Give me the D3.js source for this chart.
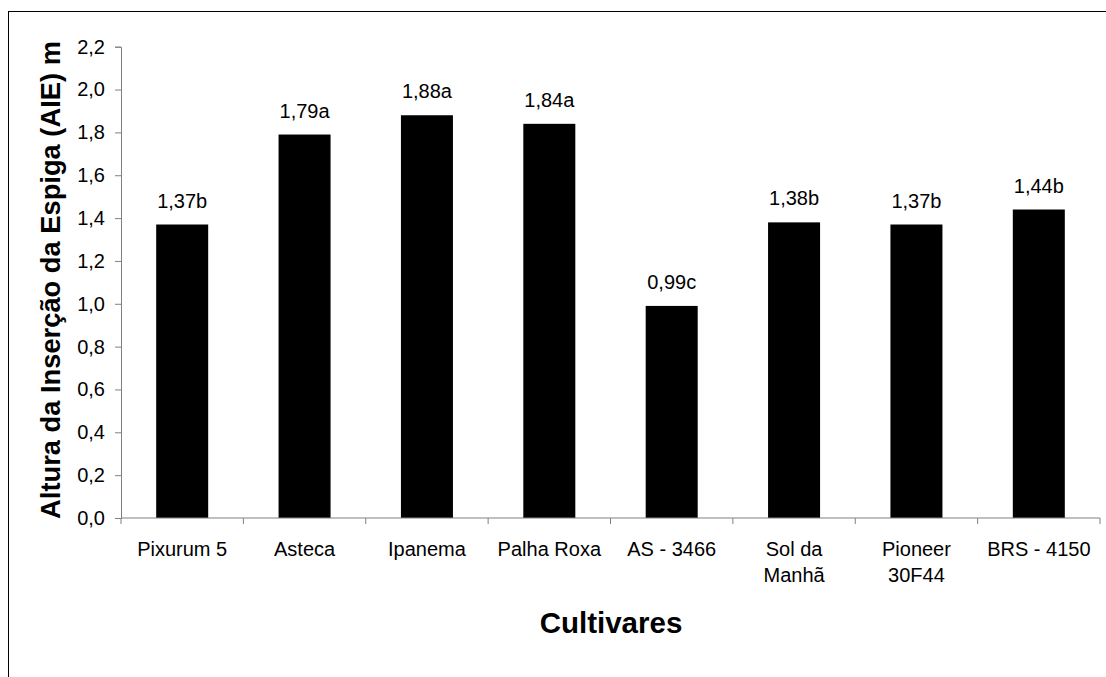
<!DOCTYPE html>
<html>
<head>
<meta charset="utf-8">
<script src="https://cdn.jsdelivr.net/npm/d3@7"></script>
<style>
  html, body { margin: 0; padding: 0; background: #fff; }
  svg { display: block; font-family: "Liberation Sans", Arial, sans-serif; }
</style>
</head>
<body>
<svg id="chart" width="1106" height="677"></svg>
<script>
// Cultivar names (each line of a label is one entry)
const cultivares = [
  ["Pixurum 5"], ["Asteca"], ["Ipanema"], ["Palha Roxa"],
  ["AS - 3466"], ["Sol da", "Manhã"], ["Pioneer", "30F44"], ["BRS - 4150"]
];
// Ear insertion height (m)
const alturas = [1.37, 1.79, 1.88, 1.84, 0.99, 1.38, 1.37, 1.44];
// Mean-comparison letters
const letras = ["b", "a", "a", "a", "c", "b", "b", "b"];
// Y axis ticks
const yTicks = [0, 0.2, 0.4, 0.6, 0.8, 1.0, 1.2, 1.4, 1.6, 1.8, 2.0, 2.2];

const svg = d3.select("#chart");
const plotLeft = 121, plotRight = 1100, plotTop = 46.7, plotBottom = 518;
const axisColor = "#808080";
const fmt = v => d3.format(".1f")(v).replace(".", ",");
const fmt2 = v => d3.format(".2f")(v).replace(".", ",");

// outer frame
svg.append("rect")
  .attr("x", 8.5).attr("y", 11.5)
  .attr("width", 1200).attr("height", 800)
  .attr("fill", "none").attr("stroke", "#000").attr("stroke-width", 1);

const idx = d3.range(alturas.length);
const x = d3.scaleBand().domain(idx).range([plotLeft, plotRight]).padding(0);
const y = d3.scaleLinear().domain([0, 2.2]).range([plotBottom, plotTop]);
const barW = x.step() * 0.425;

// bars
svg.append("g").selectAll("rect")
  .data(idx)
  .join("rect")
  .attr("x", i => x(i) + (x.step() - barW) / 2)
  .attr("y", i => y(alturas[i]))
  .attr("width", barW)
  .attr("height", i => y(0) - y(alturas[i]))
  .attr("fill", "#000");

// value labels
svg.append("g").selectAll("text")
  .data(idx)
  .join("text")
  .attr("x", i => x(i) + x.step() / 2)
  .attr("y", i => y(alturas[i]) - 17)
  .attr("text-anchor", "middle")
  .attr("font-size", 20)
  .text(i => fmt2(alturas[i]) + letras[i]);

// y axis
const yAxis = svg.append("g")
  .attr("transform", `translate(${plotLeft},0)`)
  .call(d3.axisLeft(y).tickValues(yTicks).tickFormat(fmt).tickSize(6).tickPadding(10));
yAxis.select(".domain").attr("stroke", axisColor);
yAxis.selectAll(".tick line").attr("stroke", axisColor);
yAxis.selectAll(".tick text")
  .attr("font-size", 20).attr("fill", "#000")
  .attr("font-family", "Liberation Sans, Arial, sans-serif");

// x axis: boundary ticks between categories
const xAxis = svg.append("g").attr("transform", `translate(0,${plotBottom})`);
xAxis.append("line")
  .attr("x1", plotLeft).attr("x2", plotRight)
  .attr("stroke", axisColor);
xAxis.selectAll("line.bound")
  .data(d3.range(alturas.length + 1))
  .join("line")
  .attr("class", "bound")
  .attr("x1", i => plotLeft + i * x.step()).attr("x2", i => plotLeft + i * x.step())
  .attr("y1", 0).attr("y2", 6)
  .attr("stroke", axisColor);

// category labels
const labels = xAxis.selectAll("text.cat")
  .data(idx)
  .join("text")
  .attr("class", "cat")
  .attr("text-anchor", "middle")
  .attr("font-size", 20)
  .attr("transform", i => `translate(${x(i) + x.step() / 2},38)`);
labels.selectAll("tspan")
  .data(i => cultivares[i])
  .join("tspan")
  .attr("x", 0)
  .attr("dy", (d, j) => j === 0 ? 0 : 26)
  .text(d => d);

// axis titles
svg.append("text")
  .attr("transform", "translate(60,280) rotate(-90)")
  .attr("text-anchor", "middle")
  .attr("font-size", 27.3)
  .attr("font-weight", "bold")
  .text("Altura da Inserção da Espiga (AIE) m");

svg.append("text")
  .attr("x", 611).attr("y", 633)
  .attr("text-anchor", "middle")
  .attr("font-size", 29.5)
  .attr("font-weight", "bold")
  .text("Cultivares");
</script>
</body>
</html>
